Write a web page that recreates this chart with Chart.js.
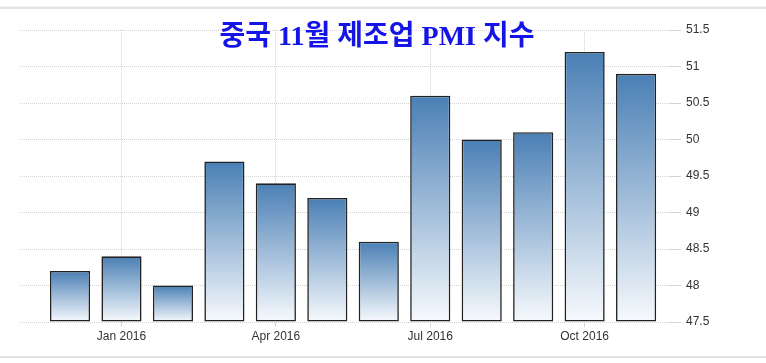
<!DOCTYPE html>
<html>
<head>
<meta charset="utf-8">
<script src="https://cdn.jsdelivr.net/npm/chart.js@4"></script>
<style>
  html, body { margin: 0; padding: 0; background: #fff; }
  #wrap { width: 766px; height: 363px; }
</style>
</head>
<body>
<div id="wrap"><canvas id="pmiChart" width="766" height="363"></canvas></div>
<script>
const chartTitle = '중국 11월 제조업 PMI 지수';
const categories = ['Dec 2015', 'Jan 2016', 'Feb 2016', 'Mar 2016', 'Apr 2016', 'May 2016',
                    'Jun 2016', 'Jul 2016', 'Aug 2016', 'Sep 2016', 'Oct 2016', 'Nov 2016'];
const pmiValues = [48.2, 48.4, 48.0, 49.7, 49.4, 49.2, 48.6, 50.6, 50.0, 50.1, 51.2, 50.9];
const xTickLabels = ['Jan 2016', 'Apr 2016', 'Jul 2016', 'Oct 2016'];
const yMin = 47.5;
const yMax = 51.5;
const yStep = 0.5;

const points = categories.map((c, i) => ({ x: i, y: pmiValues[i] }));

function barGradient(context) {
    const chart = context.chart;
    const area = chart.chartArea;
    const yScale = chart.scales.y;
    if (!area || !yScale || context.raw === undefined) {
        return '#4a7fb5';
    }
    const top = yScale.getPixelForValue(context.raw.y);
    const g = chart.ctx.createLinearGradient(0, top, 0, area.bottom);
    g.addColorStop(0, '#4a7fb5');
    g.addColorStop(1, '#f7fafd');
    return g;
}

// frame lines + title drawn over the plot
const framePlugin = {
    id: 'frame',
    beforeDraw(chart) {
        const ctx = chart.ctx;
        ctx.save();
        ctx.fillStyle = '#f3f3f3';
        ctx.fillRect(0, 6, chart.width, 1);
        ctx.fillStyle = '#e2e2e2';
        ctx.fillRect(0, 7, chart.width, 2);
        ctx.fillRect(0, 356, chart.width, 2);
        ctx.restore();
    },
    afterDraw(chart) {
        const ctx = chart.ctx;
        ctx.save();
        ctx.font = 'bold 28px "Liberation Serif", "Noto Sans CJK KR", serif';
        ctx.fillStyle = '#1414e6';
        ctx.textAlign = 'center';
        ctx.textBaseline = 'middle';
        ctx.fillText(chartTitle, 377, 38);
        ctx.restore();
    }
};

const tickFont = { family: '"Liberation Sans", Arial, sans-serif', size: 12 };

new Chart(document.getElementById('pmiChart').getContext('2d'), {
    type: 'bar',
    data: {
        datasets: [{
            data: points,
            base: yMin,
            backgroundColor: barGradient,
            borderColor: '#222222',
            borderWidth: 1.6,
            borderSkipped: false,
            barPercentage: 0.78,
            categoryPercentage: 1.0
        }]
    },
    options: {
        responsive: false,
        animation: false,
        layout: { padding: { left: 20, top: 30, right: 0, bottom: 0 } },
        scales: {
            x: {
                type: 'linear',
                offset: false,
                min: -0.972,
                max: 11.62,
                afterBuildTicks(scale) {
                    scale.ticks = xTickLabels.map(l => ({ value: categories.indexOf(l) }));
                },
                afterFit(scale) { scale.height = 41; },
                ticks: {
                    callback: v => categories[v],
                    font: tickFont,
                    color: '#333333',
                    padding: 2,
                    maxRotation: 0
                },
                grid: { offset: false, color: '#d4d4d4', tickLength: 5, lineWidth: 1 },
                border: { display: false, dash: [1, 1] }
            },
            y: {
                position: 'right',
                min: yMin,
                max: yMax,
                afterFit(scale) { scale.width = 98; },
                ticks: {
                    stepSize: yStep,
                    callback: v => String(+v.toFixed(1)),
                    font: tickFont,
                    color: '#333333',
                    padding: 5
                },
                grid: { color: '#d4d4d4', tickLength: 13, lineWidth: 1 },
                border: { display: false, dash: [1, 1] }
            }
        },
        plugins: {
            legend: { display: false },
            title: { display: false },
            tooltip: { enabled: false }
        }
    },
    plugins: [framePlugin]
});
</script>
</body>
</html>
